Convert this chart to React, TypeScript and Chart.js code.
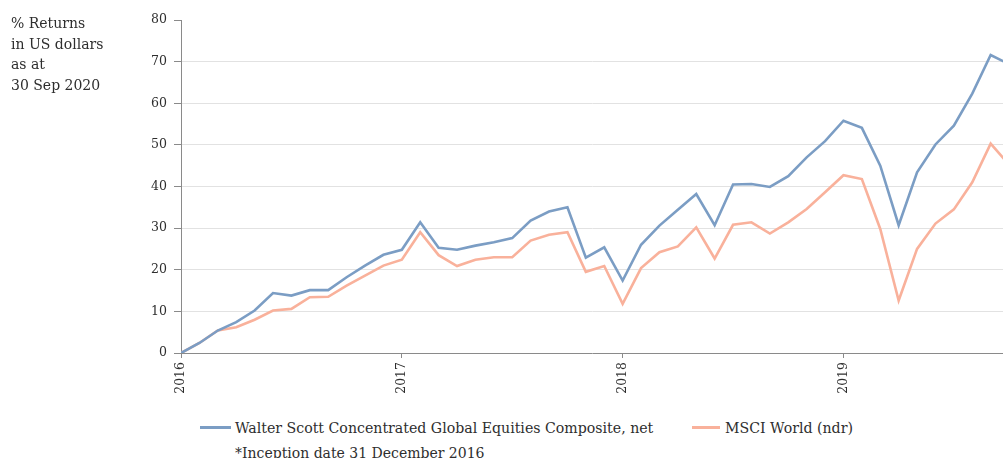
import React, { useEffect, useRef } from "react";
import { Chart, registerables } from "chart.js";

Chart.register(...registerables);

const walterScott = [0, 2.4, 5.4, 7.4, 10.2, 14.4, 13.8, 15.1, 15.1, 18.2, 21.0, 23.6, 24.8, 31.4, 25.3, 24.8, 25.8, 26.6, 27.6, 31.8, 34.0, 35.0, 22.9, 25.4, 17.4, 26.0, 30.6, 34.4, 38.2, 30.7, 40.5, 40.6, 39.9, 42.5, 47.0, 50.9, 55.8, 54.1, 45.0, 30.7, 43.4, 50.1, 54.6, 62.3, 71.6, 69.4];
const msciWorld = [0, 2.4, 5.4, 6.2, 8.0, 10.2, 10.6, 13.4, 13.5, 16.2, 18.6, 21.0, 22.4, 29.0, 23.5, 20.9, 22.4, 23.0, 23.0, 27.0, 28.4, 29.0, 19.5, 20.9, 11.8, 20.4, 24.2, 25.6, 30.2, 22.7, 30.8, 31.4, 28.7, 31.4, 34.6, 38.6, 42.7, 41.8, 29.8, 12.6, 25.0, 31.1, 34.5, 41.0, 50.3, 45.2];
const xTickMonths = [0, 12, 24, 36];
const xTickLabels = ["2016", "2017", "2018", "2019"];
const seriesNames = ["Walter Scott Concentrated Global Equities Composite, net", "MSCI World (ndr)"];
const titleLines = ["% Returns", "in US dollars", "as at", "30 Sep 2020"];
const footnote = "*Inception date 31 December 2016";

const BLUE = "#7b9dc4";
const ORANGE = "#f9b19b";
const FONT = "'DejaVu Serif', serif";
const TEXT = "#2e2e2e";

export default function App() {
  const canvasRef = useRef<HTMLCanvasElement | null>(null);

  useEffect(() => {
    document.body.style.margin = "0";
    const canvas = canvasRef.current;
    if (!canvas) return;
    const chart = new Chart(canvas, {
      type: "line",
      data: {
        datasets: [
          {
            label: seriesNames[0],
            data: walterScott.map((v, i) => ({ x: i, y: v })),
            borderColor: BLUE,
            backgroundColor: BLUE,
            borderWidth: 2.6,
            pointRadius: 0,
            tension: 0,
          },
          {
            label: seriesNames[1],
            data: msciWorld.map((v, i) => ({ x: i, y: v })),
            borderColor: ORANGE,
            backgroundColor: ORANGE,
            borderWidth: 2.6,
            pointRadius: 0,
            tension: 0,
          },
        ],
      },
      options: {
        animation: false,
        responsive: false,
        maintainAspectRatio: false,
        layout: { padding: { left: 0, right: 0, top: 20, bottom: 0 } },
        plugins: {
          legend: { display: false },
          tooltip: { enabled: false },
        },
        scales: {
          x: {
            type: "linear",
            min: 0,
            max: 44.67,
            afterBuildTicks: (scale: any) => {
              scale.ticks = xTickMonths.map((v) => ({ value: v }));
            },
            afterFit: (scale: any) => {
              scale.height = 47;
            },
            ticks: {
              autoSkip: false,
              minRotation: 90,
              maxRotation: 90,
              padding: 4,
              color: TEXT,
              font: { family: FONT, size: 12.5 },
              callback: (value: any) => {
                const idx = xTickMonths.indexOf(Number(value));
                return idx >= 0 ? xTickLabels[idx] : "";
              },
            },
            grid: {
              drawOnChartArea: false,
              drawTicks: true,
              tickLength: 5,
              tickColor: "#8a8a8a",
            },
            border: { display: true, color: "#8a8a8a", width: 1 },
          },
          y: {
            min: 0,
            max: 80,
            afterFit: (scale: any) => {
              scale.width = 181;
            },
            ticks: {
              stepSize: 10,
              padding: 7,
              color: TEXT,
              font: { family: FONT, size: 12.5 },
            },
            grid: {
              color: (ctx: any) =>
                ctx.tick && (ctx.tick.value === 80 || ctx.tick.value === 0) ? "rgba(0,0,0,0)" : "#e2e2e2",
              lineWidth: 1,
              tickLength: 7,
              tickColor: "#8a8a8a",
            },
            border: { display: true, color: "#8a8a8a", width: 1 },
          },
        },
      },
    });
    return () => chart.destroy();
  }, []);

  const textStyle: React.CSSProperties = {
    fontFamily: FONT,
    color: TEXT,
    whiteSpace: "nowrap",
  };

  return (
    <div style={{ position: "relative", width: 1003, height: 458, overflow: "hidden", background: "#fff" }}>
      <canvas ref={canvasRef} width={1003} height={400} style={{ position: "absolute", left: 0, top: 0, width: 1003, height: 400 }} />
      <div style={{ ...textStyle, position: "absolute", left: 11, top: 13, fontSize: 14, lineHeight: "20.5px" }}>
        {titleLines.map((t) => (
          <div key={t}>{t}</div>
        ))}
      </div>
      <div style={{ position: "absolute", left: 200, top: 425.5, width: 31, height: 3, background: BLUE }} />
      <div style={{ ...textStyle, position: "absolute", left: 235, top: 418, fontSize: 14.15, lineHeight: "20px" }}>
        {seriesNames[0]}
      </div>
      <div style={{ position: "absolute", left: 692, top: 425.5, width: 28, height: 3, background: ORANGE }} />
      <div style={{ ...textStyle, position: "absolute", left: 725, top: 418, fontSize: 14.15, lineHeight: "20px" }}>
        {seriesNames[1]}
      </div>
      <div style={{ ...textStyle, position: "absolute", left: 235, top: 443, fontSize: 14, lineHeight: "20px" }}>
        {footnote}
      </div>
    </div>
  );
}
